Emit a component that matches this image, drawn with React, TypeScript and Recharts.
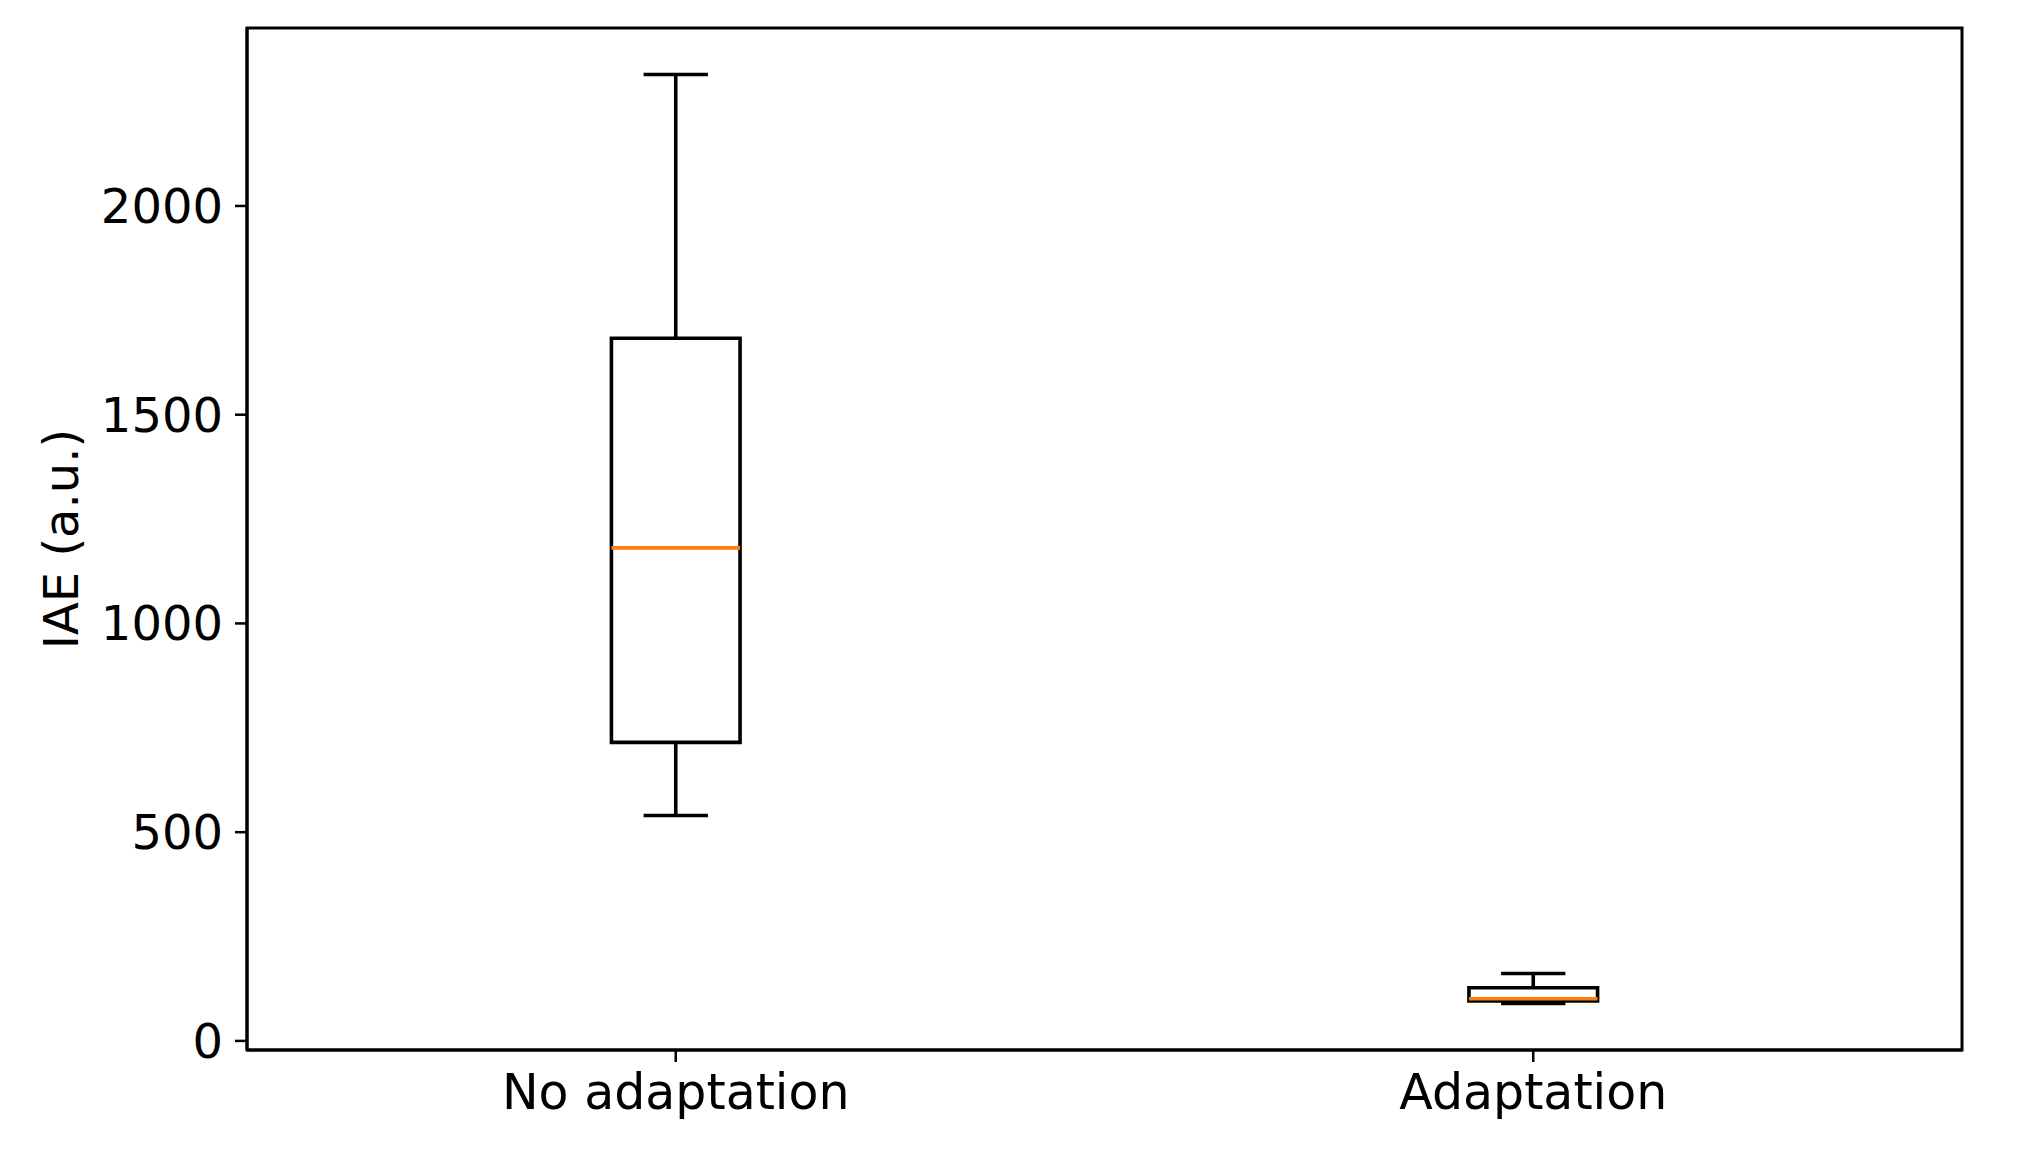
import React from 'react';
import {
  ComposedChart,
  XAxis,
  YAxis,
  Scatter,
  ReferenceArea,
  ReferenceLine,
  Label,
} from 'recharts';

const categories = ['No adaptation', 'Adaptation'];
const positions = [1, 2];
const whiskerLow = [540, 89.5];
const q1 = [715, 96];
const median = [1181, 101];
const q3 = [1683, 127.5];
const whiskerHigh = [2315, 161.5];
const yTicks = [0, 500, 1000, 1500, 2000];

const BOX_W = 0.15;
const CAP_W = 0.075;

const rows = positions.map((p, i) => ({
  pos: p,
  name: categories[i],
  low: whiskerLow[i],
  q1: q1[i],
  median: median[i],
  q3: q3[i],
  high: whiskerHigh[i],
}));

const dataMin = Math.min(...whiskerLow);
const dataMax = Math.max(...whiskerHigh);
const pad = (dataMax - dataMin) * 0.05;
const yDomain: [number, number] = [dataMin - pad, dataMax + pad];
const xDomain: [number, number] = [0.5, 2.5];

const FONT = 'DejaVu Sans';
const LW = 3;
const BLW = 3.6;

const YLabel = (props: any) => {
  const vb = props.viewBox || {};
  const cy = (vb.y ?? 28) + (vb.height ?? 1022) / 2;
  return (
    <text
      x={78}
      y={cy}
      transform={`rotate(-90, 78, ${cy})`}
      textAnchor="middle"
      fontSize={48}
      fontFamily={FONT}
      fill="#000"
    >
      IAE (a.u.)
    </text>
  );
};

export default function App() {
  return (
    <div style={{ position: 'absolute', left: 0, top: 0, background: '#fff' }}>
      <ComposedChart
        width={2030}
        height={1152}
        data={rows}
        margin={{ top: 28, right: 68, left: 0, bottom: 42 }}
      >
        <XAxis
          dataKey="pos"
          type="number"
          domain={xDomain}
          ticks={positions}
          interval={0}
          allowDataOverflow
          tickFormatter={(v: number) => categories[Math.round(v) - 1] ?? ''}
          height={60}
          tickSize={12}
          tickMargin={12}
          axisLine={{ stroke: '#000', strokeWidth: LW }}
          tickLine={{ stroke: '#000', strokeWidth: 2.5 }}
          tick={{ fontSize: 49, fill: '#000', fontFamily: FONT }}
        />
        <YAxis
          type="number"
          domain={yDomain}
          ticks={yTicks}
          interval={0}
          allowDataOverflow
          width={247}
          tickSize={12}
          tickMargin={12}
          axisLine={{ stroke: '#000', strokeWidth: LW }}
          tickLine={{ stroke: '#000', strokeWidth: 2.5 }}
          tick={{ fontSize: 48, fill: '#000', fontFamily: FONT }}
        >
          <Label content={<YLabel />} />
        </YAxis>

        <ReferenceArea
          x1={xDomain[0]}
          x2={xDomain[1]}
          y1={yDomain[0]}
          y2={yDomain[1]}
          fill="none"
          stroke="#000"
          strokeWidth={LW}
          ifOverflow="visible"
        />

        {rows.map((r) => (
          <ReferenceArea
            key={`box-${r.pos}`}
            x1={r.pos - BOX_W / 2}
            x2={r.pos + BOX_W / 2}
            y1={r.q1}
            y2={r.q3}
            fill="none"
            stroke="#000"
            strokeWidth={BLW}
            fillOpacity={0}
            strokeOpacity={1}
            ifOverflow="visible"
          />
        ))}
        {rows.map((r) => (
          <ReferenceLine
            key={`wl-${r.pos}`}
            segment={[
              { x: r.pos, y: r.low },
              { x: r.pos, y: r.q1 },
            ]}
            stroke="#000"
            strokeWidth={BLW}
            ifOverflow="visible"
          />
        ))}
        {rows.map((r) => (
          <ReferenceLine
            key={`wh-${r.pos}`}
            segment={[
              { x: r.pos, y: r.q3 },
              { x: r.pos, y: r.high },
            ]}
            stroke="#000"
            strokeWidth={BLW}
            ifOverflow="visible"
          />
        ))}
        {rows.map((r) => (
          <ReferenceLine
            key={`cl-${r.pos}`}
            segment={[
              { x: r.pos - CAP_W / 2, y: r.low },
              { x: r.pos + CAP_W / 2, y: r.low },
            ]}
            stroke="#000"
            strokeWidth={BLW}
            ifOverflow="visible"
          />
        ))}
        {rows.map((r) => (
          <ReferenceLine
            key={`ch-${r.pos}`}
            segment={[
              { x: r.pos - CAP_W / 2, y: r.high },
              { x: r.pos + CAP_W / 2, y: r.high },
            ]}
            stroke="#000"
            strokeWidth={BLW}
            ifOverflow="visible"
          />
        ))}
        {rows.map((r) => (
          <ReferenceLine
            key={`med-${r.pos}`}
            segment={[
              { x: r.pos - BOX_W / 2, y: r.median },
              { x: r.pos + BOX_W / 2, y: r.median },
            ]}
            stroke="#ff7f0e"
            strokeWidth={BLW}
            ifOverflow="visible"
          />
        ))}

        <Scatter
          dataKey="median"
          isAnimationActive={false}
          fill="none"
          shape={() => <g />}
        />
      </ComposedChart>
    </div>
  );
}
